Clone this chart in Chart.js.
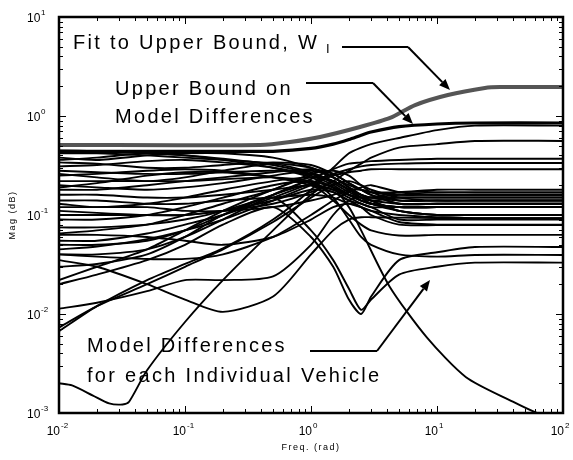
<!DOCTYPE html>
<html>
<head>
<meta charset="utf-8">
<script src="https://cdn.jsdelivr.net/npm/chart.js@4/dist/chart.umd.min.js"></script>
<style>
  html, body { margin: 0; padding: 0; background: #fff; }
  #wrap { width: 573px; height: 460px; }
</style>
</head>
<body>
<div id="wrap"><canvas id="magChart" width="573" height="460"></canvas></div>
<script>
// frequency grid (rad) shared by the vehicle curves
const freq = [0.01, 0.02, 0.05, 0.1, 0.2, 0.5, 1, 1.5, 2, 2.5, 3, 5, 10, 20, 100];

// model differences, one curve per vehicle (magnitude at each freq)
const vehicles = [
  [0.42, 0.42, 0.40, 0.38, 0.36, 0.33, 0.27, 0.22, 0.18, 0.16, 0.15, 0.14, 0.14, 0.14, 0.14],
  [0.38, 0.36, 0.40, 0.42, 0.42, 0.38, 0.30, 0.24, 0.20, 0.18, 0.17, 0.16, 0.16, 0.16, 0.16],
  [0.34, 0.33, 0.30, 0.30, 0.32, 0.34, 0.32, 0.26, 0.21, 0.18, 0.16, 0.13, 0.13, 0.13, 0.13],
  [0.31, 0.32, 0.35, 0.36, 0.34, 0.30, 0.25, 0.20, 0.16, 0.14, 0.13, 0.12, 0.12, 0.12, 0.12],
  [0.28, 0.27, 0.26, 0.26, 0.27, 0.28, 0.26, 0.22, 0.18, 0.16, 0.15, 0.15, 0.15, 0.15, 0.15],
  [0.25, 0.26, 0.28, 0.29, 0.28, 0.24, 0.20, 0.17, 0.14, 0.13, 0.12, 0.12, 0.12, 0.12, 0.12],
  [0.22, 0.22, 0.22, 0.22, 0.23, 0.24, 0.22, 0.19, 0.16, 0.15, 0.15, 0.17, 0.17, 0.17, 0.17],
  [0.20, 0.19, 0.18, 0.19, 0.21, 0.25, 0.28, 0.24, 0.19, 0.16, 0.14, 0.11, 0.10, 0.10, 0.10],
  [0.18, 0.18, 0.20, 0.22, 0.24, 0.27, 0.29, 0.26, 0.21, 0.18, 0.16, 0.13, 0.13, 0.13, 0.13],
  [0.16, 0.16, 0.15, 0.15, 0.16, 0.18, 0.20, 0.18, 0.15, 0.13, 0.12, 0.09, 0.09, 0.09, 0.09],
  [0.14, 0.14, 0.13, 0.13, 0.14, 0.15, 0.16, 0.15, 0.13, 0.12, 0.11, 0.085, 0.08, 0.08, 0.08],
  [0.12, 0.12, 0.12, 0.11, 0.11, 0.12, 0.14, 0.16, 0.18, 0.18, 0.17, 0.17, 0.18, 0.18, 0.18],
  [0.11, 0.105, 0.10, 0.10, 0.11, 0.14, 0.18, 0.17, 0.14, 0.12, 0.11, 0.10, 0.095, 0.093, 0.093],
  [0.09, 0.09, 0.10, 0.12, 0.15, 0.20, 0.22, 0.19, 0.16, 0.14, 0.13, 0.12, 0.12, 0.12, 0.12],
  [0.45, 0.44, 0.42, 0.40, 0.37, 0.32, 0.26, 0.21, 0.17, 0.15, 0.14, 0.13, 0.13, 0.13, 0.13],
  [0.36, 0.38, 0.42, 0.40, 0.36, 0.30, 0.24, 0.19, 0.16, 0.15, 0.14, 0.15, 0.15, 0.15, 0.15],
  [0.26, 0.24, 0.22, 0.24, 0.28, 0.33, 0.30, 0.24, 0.19, 0.16, 0.15, 0.16, 0.16, 0.16, 0.16],
  [0.19, 0.21, 0.25, 0.27, 0.27, 0.24, 0.21, 0.18, 0.16, 0.14, 0.13, 0.12, 0.12, 0.12, 0.12],
  [0.13, 0.12, 0.13, 0.15, 0.18, 0.22, 0.24, 0.22, 0.18, 0.15, 0.13, 0.11, 0.10, 0.10, 0.10],
  [0.065, 0.07, 0.08, 0.10, 0.13, 0.18, 0.26, 0.28, 0.25, 0.20, 0.17, 0.14, 0.14, 0.14, 0.14],
  [0.10, 0.10, 0.10, 0.10, 0.11, 0.13, 0.17, 0.22, 0.28, 0.33, 0.38, 0.48, 0.52, 0.56, 0.56],
  [0.075, 0.075, 0.08, 0.09, 0.11, 0.16, 0.23, 0.29, 0.33, 0.34, 0.35, 0.36, 0.37, 0.37, 0.37],
  [0.055, 0.055, 0.065, 0.08, 0.10, 0.15, 0.21, 0.26, 0.29, 0.31, 0.32, 0.33, 0.335, 0.335, 0.335],
  [0.045, 0.048, 0.057, 0.07, 0.09, 0.14, 0.20, 0.25, 0.27, 0.28, 0.29, 0.29, 0.29, 0.29, 0.29],
  [0.0067, 0.012, 0.022, 0.032, 0.046, 0.09, 0.18, 0.30, 0.42, 0.48, 0.52, 0.60, 0.72, 0.80, 0.80],
  [0.0073, 0.012, 0.020, 0.030, 0.045, 0.085, 0.15, 0.20, 0.22, 0.20, 0.18, 0.15, 0.14, 0.14, 0.14],
  [0.022, 0.030, 0.045, 0.07, 0.11, 0.18, 0.24, 0.22, 0.18, 0.15, 0.13, 0.12, 0.12, 0.12, 0.12],
  [0.040, 0.038, 0.036, 0.036, 0.040, 0.06, 0.10, 0.14, 0.17, 0.19, 0.20, 0.17, 0.16, 0.16, 0.16],
  [0.035, 0.030, 0.020, 0.014, 0.0105, 0.015, 0.04, 0.07, 0.09, 0.095, 0.095, 0.094, 0.093, 0.093, 0.093],
  [0.0113, 0.013, 0.017, 0.022, 0.022, 0.024, 0.05, 0.10, 0.14, 0.15, 0.14, 0.11, 0.10, 0.10, 0.10],
  [0.063, 0.063, 0.060, 0.055, 0.050, 0.06, 0.09, 0.12, 0.13, 0.12, 0.10, 0.08, 0.079, 0.079, 0.079],
  [0.020, 0.025, 0.035, 0.05, 0.08, 0.12, 0.06, 0.03, 0.014, 0.010, 0.015, 0.035, 0.042, 0.0475, 0.0475],
  [0.030, 0.032, 0.040, 0.06, 0.10, 0.15, 0.07, 0.035, 0.018, 0.011, 0.014, 0.025, 0.030, 0.033, 0.033],
  [0.050, 0.050, 0.055, 0.07, 0.10, 0.16, 0.20, 0.14, 0.10, 0.08, 0.07, 0.062, 0.063, 0.063, 0.063],
  [0.040, 0.040, 0.045, 0.06, 0.09, 0.16, 0.22, 0.15, 0.09, 0.06, 0.05, 0.040, 0.038, 0.0395, 0.0395]
];

// vehicle with the very low start that rolls off at high freq
const lowFreq = [0.01, 0.0127, 0.0186, 0.025, 0.032, 0.036, 0.05, 0.1, 0.2, 0.5, 1, 1.4, 2, 2.5, 4.2, 8.3, 17, 40, 62, 100];
const lowMag = [0.002, 0.0019, 0.0015, 0.00125, 0.00122, 0.0013, 0.0027, 0.0083, 0.022, 0.07, 0.16, 0.2, 0.12, 0.07, 0.019, 0.0058, 0.0023, 0.0013, 0.001, 0.0008];

// upper bound on model differences
const boundMag = [0.44, 0.44, 0.44, 0.44, 0.44, 0.44, 0.47, 0.52, 0.58, 0.64, 0.69, 0.78, 0.83, 0.85, 0.85];

// fit to upper bound, W_I
const fitFreq = [0.01, 0.394, 0.68, 1.18, 2.45, 4.24, 6.7, 12.2, 24, 31.6, 100];
const fitMag = [0.51, 0.51, 0.546, 0.614, 0.774, 0.955, 1.29, 1.63, 1.92, 1.96, 1.96];

// axis decades
const xExps = [-2, -1, 0, 1, 2];
const yExps = [-3, -2, -1, 0, 1];

const pts = (xs, ys) => xs.map((f, i) => ({ x: f, y: ys[i] }));

const datasets = [
  { data: pts(fitFreq, fitMag), borderColor: '#555555', borderWidth: 4 },
  { data: pts(freq, boundMag), borderColor: '#000', borderWidth: 3.2 },
  { data: pts(lowFreq, lowMag), borderColor: '#000', borderWidth: 1.9 }
].concat(vehicles.map(v => ({ data: pts(freq, v), borderColor: '#000', borderWidth: 1.9 })));

datasets.forEach(d => { d.pointRadius = 0; d.fill = false; d.tension = 0.25; });

function arrowTo(ctx, x0, y0, x1, y1) {
  const ang = Math.atan2(y1 - y0, x1 - x0);
  const len = 11, half = 4.5;
  const bx = x1 - len * Math.cos(ang), by = y1 - len * Math.sin(ang);
  ctx.beginPath();
  ctx.moveTo(x0, y0);
  ctx.lineTo(bx, by);
  ctx.stroke();
  ctx.beginPath();
  ctx.moveTo(x1, y1);
  ctx.lineTo(bx + half * Math.sin(ang), by - half * Math.cos(ang));
  ctx.lineTo(bx - half * Math.sin(ang), by + half * Math.cos(ang));
  ctx.closePath();
  ctx.fill();
}

const decor = {
  id: 'decor',
  afterDraw(chart) {
    const { ctx, chartArea: a, scales: { x, y } } = chart;
    ctx.save();
    ctx.strokeStyle = '#000';
    ctx.fillStyle = '#000';

    // inward ticks on all four sides
    ctx.lineWidth = 1;
    ctx.beginPath();
    for (let e = -2; e < 2; e++) {
      for (let m = 1; m < 10; m++) {
        const px = Math.round(x.getPixelForValue(m * Math.pow(10, e))) + 0.5;
        const len = m === 1 ? 7 : 4;
        ctx.moveTo(px, a.bottom); ctx.lineTo(px, a.bottom - len);
        ctx.moveTo(px, a.top); ctx.lineTo(px, a.top + len);
      }
    }
    for (let e = -3; e < 1; e++) {
      for (let m = 1; m < 10; m++) {
        const py = Math.round(y.getPixelForValue(m * Math.pow(10, e))) + 0.5;
        const len = m === 1 ? 7 : 4;
        ctx.moveTo(a.left, py); ctx.lineTo(a.left + len, py);
        ctx.moveTo(a.right, py); ctx.lineTo(a.right - len, py);
      }
    }
    ctx.stroke();

    // frame
    ctx.lineWidth = 2.5;
    ctx.strokeRect(a.left, a.top, a.right - a.left, a.bottom - a.top);

    // tick labels, 10 with superscript exponent
    ctx.textBaseline = 'alphabetic';
    xExps.forEach(e => {
      const px = x.getPixelForValue(Math.pow(10, e));
      ctx.font = '12px "Liberation Sans", Arial, sans-serif';
      ctx.textAlign = 'right';
      ctx.fillText('10', px + 1, 435);
      ctx.font = '8px "Liberation Sans", Arial, sans-serif';
      ctx.textAlign = 'left';
      ctx.fillText(String(e), px + 2, 428);
    });
    yExps.forEach(e => {
      const py = y.getPixelForValue(Math.pow(10, e));
      ctx.font = '12px "Liberation Sans", Arial, sans-serif';
      ctx.textAlign = 'left';
      ctx.fillText('10', 27, py + 5);
      ctx.font = '8px "Liberation Sans", Arial, sans-serif';
      ctx.fillText(String(e), 41, py - 2);
    });

    // axis titles
    ctx.font = '9px "Liberation Sans", Arial, sans-serif';
    ctx.letterSpacing = '1.5px';
    ctx.textAlign = 'center';
    ctx.fillText('Freq. (rad)', (a.left + a.right) / 2, 450);
    ctx.save();
    ctx.translate(15, (a.top + a.bottom) / 2);
    ctx.rotate(-Math.PI / 2);
    ctx.fillText('Mag (dB)', 0, 0);
    ctx.restore();

    // annotations
    ctx.font = '20px "Liberation Sans", Arial, sans-serif';
    ctx.letterSpacing = '2.3px';
    ctx.textAlign = 'left';
    ctx.fillText('Fit to Upper Bound, W', 73, 49);
    ctx.font = '13px "Liberation Sans", Arial, sans-serif';
    ctx.letterSpacing = '0px';
    ctx.fillText('I', 326, 53);
    ctx.font = '20px "Liberation Sans", Arial, sans-serif';
    ctx.letterSpacing = '2.3px';
    ctx.fillText('Upper Bound on', 115, 95);
    ctx.fillText('Model Differences', 115, 123);
    ctx.fillText('Model Differences', 87, 352);
    ctx.fillText('for each Individual Vehicle', 87, 382);
    ctx.letterSpacing = '0px';

    ctx.lineWidth = 2;
    ctx.beginPath();
    ctx.moveTo(342, 47); ctx.lineTo(408, 47);
    ctx.moveTo(306, 83); ctx.lineTo(373, 83);
    ctx.moveTo(310, 351); ctx.lineTo(377, 351);
    ctx.stroke();
    arrowTo(ctx, 408, 47, 450, 90);
    arrowTo(ctx, 373, 83, 413, 124);
    arrowTo(ctx, 377, 351, 430, 280);

    ctx.restore();
  }
};

new Chart(document.getElementById('magChart').getContext('2d'), {
  type: 'line',
  data: { datasets },
  options: {
    responsive: false,
    animation: false,
    layout: { padding: { left: 59, right: 10, top: 17, bottom: 47 } },
    plugins: { legend: { display: false }, tooltip: { enabled: false } },
    scales: {
      x: { type: 'logarithmic', min: 0.01, max: 100, display: false },
      y: { type: 'logarithmic', min: 0.001, max: 10, display: false }
    }
  },
  plugins: [decor]
});
</script>
</body>
</html>
